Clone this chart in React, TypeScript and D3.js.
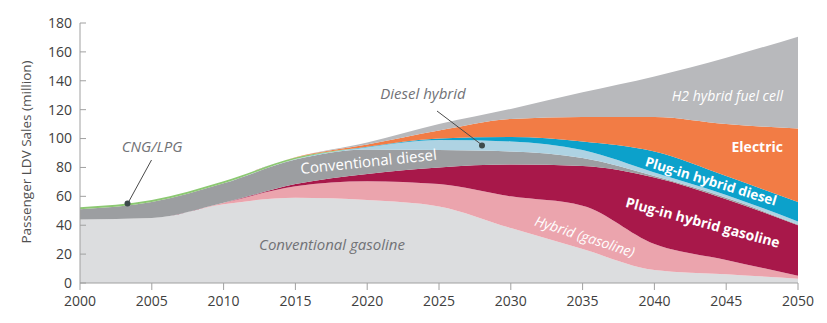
import React from "react";
import * as d3 from "d3";

const years = [2000, 2005, 2010, 2015, 2020, 2025, 2030, 2035, 2040, 2045, 2050];
const conventionalGasoline = [44, 45, 54.5, 59, 57.5, 53, 38, 23.5, 9, 6, 3];
const hybridGasoline = [0, 0, 1, 8, 13, 15.5, 22, 30, 18, 10, 2];
const plugInHybridGasoline = [0, 0, 0, 1.5, 5, 11.5, 22, 27.5, 46, 42, 35];
const conventionalDiesel = [7, 11, 13.5, 17, 17, 12, 9, 5.5, 1, 1, 0.5];
const dieselHybrid = [0, 0, 0, 0.3, 1.5, 7, 7, 5.5, 2.5, 2, 2];
const plugInHybridDiesel = [0, 0, 0, 0, 0.3, 1, 3, 6, 14.5, 13, 13.5];
const cngLpg = [1.5, 1.5, 1.5, 1, 0, 0, 0, 0, 0, 0, 0];
const electric = [0, 0, 0, 0.2, 1.5, 5.5, 12.5, 17, 24, 36, 51];
const h2HybridFuelCell = [0, 0, 0, 0, 1.5, 4.5, 7, 17, 28, 46, 63.5];

const yTicks = [0, 20, 40, 60, 80, 100, 120, 140, 160, 180];
const xTicks = [2000, 2005, 2010, 2015, 2020, 2025, 2030, 2035, 2040, 2045, 2050];

const seriesKeys = [
  "gasoline",
  "hybridGasoline",
  "phevGasoline",
  "diesel",
  "dieselHybrid",
  "phevDiesel",
  "cng",
  "electric",
  "h2",
];
const seriesValues = [
  conventionalGasoline,
  hybridGasoline,
  plugInHybridGasoline,
  conventionalDiesel,
  dieselHybrid,
  plugInHybridDiesel,
  cngLpg,
  electric,
  h2HybridFuelCell,
];
const colors = [
  "#dcdddf",
  "#eba4ad",
  "#a8184a",
  "#9c9ea1",
  "#aed3e3",
  "#0ca1cb",
  "#8cc872",
  "#f27c45",
  "#b8b9bc",
];

const FONT = "'Open Sans', 'Noto Sans', sans-serif";

export default function App() {
  const x = d3.scaleLinear().domain([2000, 2050]).range([80, 798]);
  const y = d3.scaleLinear().domain([0, 180]).range([283, 23]);

  const table = years.map((yr, i) => {
    const row: any = { year: yr };
    seriesKeys.forEach((k, j) => (row[k] = seriesValues[j][i]));
    return row;
  });
  const stack = d3.stack().keys(seriesKeys);
  const layers = stack(table);
  const area = d3
    .area<any>()
    .x((d) => x(d.data.year))
    .y0((d) => y(d[0]))
    .y1((d) => y(d[1]))
    .curve(d3.curveMonotoneX);

  const axisColor = "#a0a0a0";
  const tickText = "#404040";
  const annot = "#717276";

  return (
    <svg
      width={827}
      height={323}
      style={{ position: "absolute", left: 0, top: 0, background: "#fff" }}
      fontFamily={FONT}
    >
      {layers.map((layer, i) => (
        <path key={seriesKeys[i]} d={area(layer as any) || ""} fill={colors[i]} />
      ))}

      {/* axes */}
      <line x1={x(2000)} x2={x(2000)} y1={y(180)} y2={y(0)} stroke={axisColor} strokeWidth={1} />
      <line x1={x(2000)} x2={x(2050)} y1={y(0)} y2={y(0)} stroke={axisColor} strokeWidth={1} />
      {yTicks.map((t) => (
        <g key={"y" + t}>
          <line x1={x(2000)} x2={x(2000) + 6} y1={y(t)} y2={y(t)} stroke={axisColor} />
          <text x={72} y={y(t)} dy="0.35em" textAnchor="end" fontSize={14} fill={tickText}>
            {t}
          </text>
        </g>
      ))}
      {xTicks.map((t) => (
        <g key={"x" + t}>
          <line x1={x(t)} x2={x(t)} y1={y(0)} y2={y(0) + 7} stroke={axisColor} />
          <text x={x(t)} y={306} textAnchor="middle" fontSize={14} fill={tickText}>
            {t}
          </text>
        </g>
      ))}
      <text
        transform="translate(31,152) rotate(-90)"
        textAnchor="middle"
        fontSize={13.5}
        fill="#505050"
      >
        Passenger LDV Sales (million)
      </text>

      {/* annotations */}
      <text x={332} y={250} textAnchor="middle" fontSize={15} fontStyle="italic" fill={annot}>
        Conventional gasoline
      </text>
      <text transform="translate(301,174) rotate(-6)" fontSize={15} fill="#ffffff">
        Conventional diesel
      </text>
      <text x={423} y={99} textAnchor="middle" fontSize={15} fontStyle="italic" fill={annot}>
        Diesel hybrid
      </text>
      <line x1={437} y1={111} x2={482} y2={145} stroke="#4a4a4a" strokeWidth={1} />
      <circle cx={482} cy={145.5} r={3} fill="#3d4a4a" />
      <text x={152} y={152} textAnchor="middle" fontSize={15} fontStyle="italic" fill={annot}>
        CNG/LPG
      </text>
      <line x1={151.5} y1={160} x2={128} y2={203} stroke="#4a4a4a" strokeWidth={1} />
      <circle cx={127.5} cy={203.5} r={3} fill="#3d4a4a" />

      <text x={783} y={101} textAnchor="end" fontSize={14} fontStyle="italic" fill="#ffffff">
        H2 hybrid fuel cell
      </text>
      <text x={783} y={152} textAnchor="end" fontSize={14} fontWeight="bold" fill="#ffffff">
        Electric
      </text>
      <text
        transform="translate(711,181) rotate(17)"
        textAnchor="middle"
        dominantBaseline="central"
        fontSize={13.5}
        fontWeight="bold"
        fill="#ffffff"
      >
        Plug-in hybrid diesel
      </text>
      <text
        transform="translate(703,222) rotate(15)"
        textAnchor="middle"
        dominantBaseline="central"
        fontSize={14}
        fontWeight="bold"
        fill="#ffffff"
      >
        Plug-in hybrid gasoline
      </text>
      <text
        transform="translate(585,236) rotate(18)"
        textAnchor="middle"
        dominantBaseline="central"
        fontSize={14}
        fontStyle="italic"
        fill="#ffffff"
      >
        Hybrid (gasoline)
      </text>
    </svg>
  );
}
